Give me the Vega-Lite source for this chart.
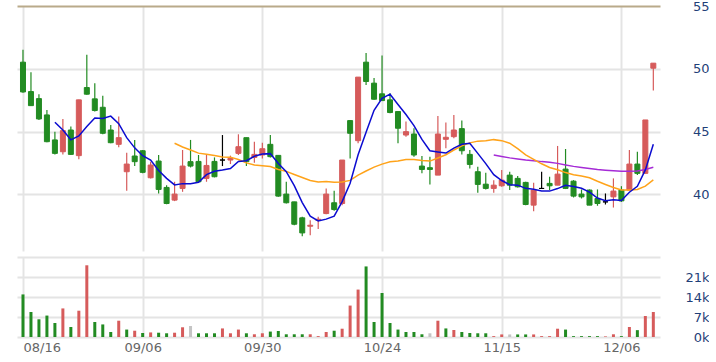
{
  "$schema": "https://vega.github.io/schema/vega-lite/v6.json",
  "padding": {"left": 17, "top": 0, "right": 0, "bottom": 0},
  "background": "white",
  "bounds": "flush",
  "spacing": 6,
  "config": {
    "view": {"stroke": null},
    "axis": {"gridColor": "#e4e4e4", "gridWidth": 2, "labelFont": "DejaVu Sans", "labelFontSize": 13, "domain": false, "ticks": false, "title": null}
  },
  "datasets": {
    "d": [
      {"i":0,"o":50.53,"h":51.52,"l":48.1,"c":48.16,"v":14900,"vd":"d"},
      {"i":1,"o":48.19,"h":49.73,"l":47.07,"c":47.07,"v":8750,"vd":"d"},
      {"i":2,"o":47.63,"h":47.98,"l":45.93,"c":46.01,"v":6200,"vd":"d"},
      {"i":3,"o":46.33,"h":46.73,"l":44.15,"c":44.2,"v":7500,"vd":"d"},
      {"i":4,"o":44.34,"h":45.0,"l":43.19,"c":43.27,"v":4900,"vd":"d"},
      {"i":5,"o":43.4,"h":46.01,"l":43.19,"c":45.08,"v":10000,"vd":"u"},
      {"i":6,"o":45.13,"h":45.4,"l":43.14,"c":43.19,"v":3500,"vd":"d"},
      {"i":7,"o":43.09,"h":47.53,"l":42.8,"c":47.53,"v":9200,"vd":"u"},
      {"i":8,"o":48.51,"h":51.12,"l":47.93,"c":47.98,"v":25100,"vd":"u"},
      {"i":9,"o":47.61,"h":48.86,"l":46.6,"c":46.68,"v":5250,"vd":"d"},
      {"i":10,"o":46.94,"h":47.85,"l":44.79,"c":44.87,"v":4400,"vd":"d"},
      {"i":11,"o":45.13,"h":45.53,"l":44.07,"c":44.12,"v":1750,"vd":"d"},
      {"i":12,"o":43.99,"h":46.2,"l":43.75,"c":44.52,"v":5700,"vd":"u"},
      {"i":13,"o":41.81,"h":43.32,"l":40.29,"c":42.42,"v":2600,"vd":"d"},
      {"i":14,"o":43.06,"h":44.34,"l":42.26,"c":42.61,"v":2200,"vd":"u"},
      {"i":15,"o":43.48,"h":43.54,"l":41.68,"c":41.76,"v":1400,"vd":"d"},
      {"i":16,"o":41.33,"h":42.61,"l":41.28,"c":42.34,"v":1600,"vd":"u"},
      {"i":17,"o":42.66,"h":43.14,"l":40.08,"c":40.4,"v":1500,"vd":"d"},
      {"i":18,"o":40.56,"h":40.74,"l":39.23,"c":39.28,"v":1300,"vd":"d"},
      {"i":19,"o":39.55,"h":41.01,"l":39.47,"c":40.03,"v":1500,"vd":"u"},
      {"i":20,"o":40.48,"h":43.54,"l":40.21,"c":42.26,"v":3400,"vd":"u"},
      {"i":21,"o":42.61,"h":44.34,"l":42.15,"c":42.26,"v":3850,"vd":"f"},
      {"i":22,"o":42.63,"h":43.14,"l":40.93,"c":41.01,"v":1300,"vd":"d"},
      {"i":23,"o":41.28,"h":43.14,"l":41.01,"c":42.31,"v":1300,"vd":"d"},
      {"i":24,"o":42.63,"h":42.95,"l":41.36,"c":41.41,"v":1300,"vd":"d"},
      {"i":25,"o":42.74,"h":44.73,"l":42.26,"c":42.74,"v":3000,"vd":"u"},
      {"i":26,"o":42.74,"h":43.09,"l":42.42,"c":42.87,"v":1300,"vd":"u"},
      {"i":27,"o":43.27,"h":44.79,"l":43.14,"c":43.8,"v":2600,"vd":"u"},
      {"i":28,"o":44.52,"h":44.52,"l":42.26,"c":42.61,"v":1300,"vd":"d"},
      {"i":29,"o":42.95,"h":44.2,"l":42.53,"c":43.19,"v":950,"vd":"u"},
      {"i":30,"o":43.14,"h":44.12,"l":42.87,"c":43.64,"v":1300,"vd":"u"},
      {"i":31,"o":43.99,"h":44.73,"l":42.95,"c":43.01,"v":1900,"vd":"d"},
      {"i":32,"o":43.11,"h":43.11,"l":39.81,"c":39.87,"v":2100,"vd":"d"},
      {"i":33,"o":40.03,"h":41.01,"l":39.28,"c":39.34,"v":950,"vd":"d"},
      {"i":34,"o":39.41,"h":39.41,"l":37.55,"c":37.63,"v":950,"vd":"d"},
      {"i":35,"o":38.14,"h":38.22,"l":36.68,"c":36.94,"v":950,"vd":"d"},
      {"i":36,"o":37.47,"h":37.95,"l":36.76,"c":37.55,"v":950,"vd":"u"},
      {"i":37,"o":37.95,"h":38.22,"l":37.26,"c":38.03,"v":300,"vd":"u"},
      {"i":38,"o":38.48,"h":40.48,"l":38.43,"c":40.03,"v":1750,"vd":"u"},
      {"i":39,"o":39.34,"h":40.29,"l":38.7,"c":38.8,"v":2200,"vd":"d"},
      {"i":40,"o":39.28,"h":42.74,"l":39.15,"c":42.74,"v":2900,"vd":"u"},
      {"i":41,"o":45.88,"h":45.93,"l":42.87,"c":44.87,"v":11000,"vd":"u"},
      {"i":42,"o":44.28,"h":49.34,"l":44.07,"c":49.34,"v":16600,"vd":"u"},
      {"i":43,"o":50.53,"h":51.25,"l":48.72,"c":48.99,"v":24700,"vd":"d"},
      {"i":44,"o":48.86,"h":49.26,"l":47.53,"c":47.58,"v":5250,"vd":"d"},
      {"i":45,"o":48.01,"h":51.06,"l":47.47,"c":47.47,"v":15400,"vd":"d"},
      {"i":46,"o":47.53,"h":48.06,"l":46.46,"c":46.52,"v":4900,"vd":"d"},
      {"i":47,"o":46.6,"h":46.6,"l":44.07,"c":45.27,"v":2600,"vd":"d"},
      {"i":48,"o":44.73,"h":45.8,"l":44.6,"c":45.0,"v":1750,"vd":"d"},
      {"i":49,"o":44.81,"h":45.27,"l":43.01,"c":43.14,"v":1750,"vd":"d"},
      {"i":50,"o":42.26,"h":43.06,"l":41.68,"c":41.99,"v":950,"vd":"d"},
      {"i":51,"o":42.13,"h":43.01,"l":40.8,"c":41.99,"v":1300,"vd":"f"},
      {"i":52,"o":41.54,"h":46.25,"l":41.54,"c":44.81,"v":5700,"vd":"u"},
      {"i":53,"o":44.39,"h":45.72,"l":43.67,"c":44.55,"v":3000,"vd":"d"},
      {"i":54,"o":44.6,"h":46.33,"l":44.47,"c":45.13,"v":2450,"vd":"u"},
      {"i":55,"o":45.24,"h":45.88,"l":43.19,"c":43.48,"v":1750,"vd":"d"},
      {"i":56,"o":43.19,"h":43.54,"l":42.07,"c":42.39,"v":1400,"vd":"d"},
      {"i":57,"o":41.81,"h":42.21,"l":40.13,"c":40.8,"v":1300,"vd":"d"},
      {"i":58,"o":40.82,"h":41.73,"l":40.4,"c":40.48,"v":1300,"vd":"d"},
      {"i":59,"o":40.48,"h":41.14,"l":40.13,"c":40.74,"v":300,"vd":"u"},
      {"i":60,"o":40.69,"h":41.94,"l":40.61,"c":41.14,"v":900,"vd":"u"},
      {"i":61,"o":41.54,"h":41.81,"l":40.35,"c":40.74,"v":900,"vd":"f"},
      {"i":62,"o":41.28,"h":41.46,"l":40.56,"c":40.61,"v":900,"vd":"d"},
      {"i":63,"o":40.96,"h":41.01,"l":39.15,"c":39.2,"v":900,"vd":"d"},
      {"i":64,"o":39.15,"h":40.93,"l":38.67,"c":40.35,"v":900,"vd":"u"},
      {"i":65,"o":40.48,"h":41.81,"l":40.43,"c":40.48,"v":300,"vd":"u"},
      {"i":66,"o":40.88,"h":41.41,"l":40.35,"c":40.69,"v":300,"vd":"u"},
      {"i":67,"o":40.74,"h":43.86,"l":40.74,"c":41.62,"v":2900,"vd":"u"},
      {"i":68,"o":42.02,"h":43.62,"l":40.43,"c":40.48,"v":2600,"vd":"d"},
      {"i":69,"o":41.06,"h":41.14,"l":39.76,"c":39.87,"v":300,"vd":"d"},
      {"i":70,"o":40.03,"h":40.4,"l":39.68,"c":39.81,"v":300,"vd":"d"},
      {"i":71,"o":40.35,"h":40.4,"l":39.15,"c":39.15,"v":300,"vd":"d"},
      {"i":72,"o":39.68,"h":40.4,"l":39.1,"c":39.28,"v":300,"vd":"d"},
      {"i":73,"o":39.41,"h":40.08,"l":39.2,"c":39.41,"v":200,"vd":"u"},
      {"i":74,"o":39.81,"h":41.28,"l":38.96,"c":40.27,"v":950,"vd":"u"},
      {"i":75,"o":40.35,"h":40.66,"l":39.41,"c":39.49,"v":300,"vd":"d"},
      {"i":76,"o":40.35,"h":43.54,"l":40.35,"c":42.42,"v":3500,"vd":"u"},
      {"i":77,"o":42.42,"h":43.4,"l":41.54,"c":41.68,"v":2400,"vd":"d"},
      {"i":78,"o":41.68,"h":45.93,"l":41.68,"c":45.93,"v":7350,"vd":"u"},
      {"i":79,"o":50.05,"h":50.45,"l":48.27,"c":50.45,"v":8750,"vd":"u"}
    ]
  },
  "vconcat": [
    {
      "width": 643,
      "height": 245,
      "data": {"name": "d"},
      "encoding": {
        "x": {"field": "i", "type": "quantitative", "scale": {"domain": [-0.1234, 79.21], "nice": false, "zero": false},
              "axis": {"values": [0, 15, 30, 45, 60, 75], "labels": false, "grid": true, "orient": "bottom"}}
      },
      "layer": [
        {
          "mark": {"type": "rule", "strokeWidth": 1.2},
          "encoding": {
            "y": {"field": "l", "type": "quantitative", "scale": {"domain": [35.5, 55], "nice": false, "zero": false},
                  "axis": {"orient": "right", "values": [40, 45, 50, 55], "grid": true, "labelAlign": "right", "labelPadding": 49, "labelBaseline": "middle", "labelColor": "#1f3f78", "labelOverlap": false, "labelFlush": false, "labelBound": false,
                           "gridColor": {"condition": {"test": "datum.value == 55", "value": "#b9aa8a"}, "value": "#e4e4e4"}}},
            "y2": {"field": "h"},
            "color": {"condition": [{"test": "datum.c > datum.o", "value": "#d65b5b"}, {"test": "datum.c < datum.o", "value": "#228b22"}], "value": "#000000"}
          }
        },
        {
          "mark": {"type": "bar", "width": 5, "strokeWidth": 1},
          "encoding": {
            "y": {"field": "o", "type": "quantitative"},
            "y2": {"field": "c"},
            "color": {"condition": [{"test": "datum.c > datum.o", "value": "#d65b5b"}, {"test": "datum.c < datum.o", "value": "#228b22"}], "value": "#000000"},
            "stroke": {"condition": [{"test": "datum.c > datum.o", "value": "#d65b5b"}, {"test": "datum.c < datum.o", "value": "#228b22"}], "value": "#000000"}
          }
        },
        {
          "transform": [
            {"window": [{"op": "mean", "field": "c", "as": "ma"}, {"op": "count", "as": "n"}], "frame": [-59, 0], "sort": [{"field": "i"}]},
            {"filter": "datum.n >= 60"}
          ],
          "mark": {"type": "line", "color": "#a52bd6", "strokeWidth": 1.5},
          "encoding": {"y": {"field": "ma", "type": "quantitative"}}
        },
        {
          "transform": [
            {"window": [{"op": "mean", "field": "c", "as": "ma"}, {"op": "count", "as": "n"}], "frame": [-19, 0], "sort": [{"field": "i"}]},
            {"filter": "datum.n >= 20"}
          ],
          "mark": {"type": "line", "color": "#ffa31a", "strokeWidth": 1.5},
          "encoding": {"y": {"field": "ma", "type": "quantitative"}}
        },
        {
          "transform": [
            {"window": [{"op": "mean", "field": "c", "as": "ma"}, {"op": "count", "as": "n"}], "frame": [-4, 0], "sort": [{"field": "i"}]},
            {"filter": "datum.n >= 5"}
          ],
          "mark": {"type": "line", "color": "#0b0bd0", "strokeWidth": 1.5},
          "encoding": {"y": {"field": "ma", "type": "quantitative"}}
        }
      ]
    },
    {
      "width": 643,
      "height": 80,
      "data": {"name": "d"},
      "mark": {"type": "bar", "width": 3},
      "encoding": {
        "x": {"field": "i", "type": "quantitative", "scale": {"domain": [-0.1234, 79.21], "nice": false, "zero": false},
              "axis": {"values": [0, 15, 30, 45, 60, 75], "grid": true, "labelPadding": 4, "labelColor": "#666666",
                       "labelAlign": {"condition": {"test": "datum.value == 0", "value": "left"}, "value": "center"},
                       "labelExpr": "datum.value == 0 ? '08/16' : datum.value == 15 ? '09/06' : datum.value == 30 ? '09/30' : datum.value == 45 ? '10/24' : datum.value == 60 ? '11/15' : '12/06'"}},
        "y": {"field": "v", "type": "quantitative", "scale": {"domain": [0, 28000], "nice": false},
              "axis": {"orient": "right", "values": [0, 7000, 14000, 21000, 28000], "grid": true, "labelAlign": "right", "labelPadding": 49, "labelBaseline": "middle", "labelColor": "#1f3f78", "labelOverlap": false, "labelFlush": false, "labelBound": false,
                       "labelExpr": "datum.value >= 28000 ? '' : format(datum.value / 1000, 'd') + 'k'"}},
        "color": {"field": "vd", "type": "nominal", "scale": {"domain": ["u", "d", "f"], "range": ["#d65b5b", "#228b22", "#c4c4c4"]}, "legend": null}
      }
    }
  ]
}
